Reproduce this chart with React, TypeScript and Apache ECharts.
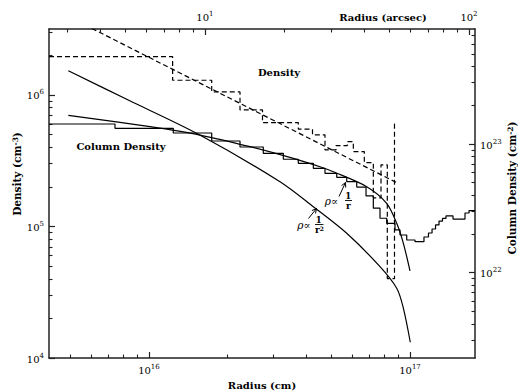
import { useEffect, useRef } from 'react';
import * as echarts from 'echarts';

// ---- axis ticks ----
const radiusMajorCm = [1e16, 1e17];
const radiusMinorCm = [5e15, 6e15, 7e15, 8e15, 9e15, 2e16, 3e16, 4e16, 5e16, 6e16, 7e16, 8e16, 9e16];
const arcsecMajor = [10, 100];
const arcsecMinor = [3, 4, 5, 6, 7, 8, 9, 20, 30, 40, 50, 60, 70, 80, 90];
const densityMajor = [1e4, 1e5, 1e6];
const densityMinor = [2e4, 3e4, 4e4, 5e4, 6e4, 7e4, 8e4, 9e4, 2e5, 3e5, 4e5, 5e5, 6e5, 7e5, 8e5, 9e5, 2e6, 3e6];
const columnMajor = [1e22, 1e23];
const columnMinor = [3e21, 4e21, 5e21, 6e21, 7e21, 8e21, 9e21, 2e22, 3e22, 4e22, 5e22, 6e22, 7e22, 8e22, 9e22, 2e23, 3e23, 4e23, 5e23, 6e23, 7e23];

// ---- axis ranges ----
const radiusRangeCm = [4.14e15, 1.774e17];
const arcsecRange = [2.566, 105.4];
const densityRange = [1e4, 3.171e6];
const columnRange = [2.173e21, 7.83e23];

// ---- density histogram (dashed, cm^-3) ----
const densityEdgesCm = [4.14e15, 1.232e16, 1.739e16, 2.232e16, 2.722e16, 3.733e16, 4.231e16, 4.724e16, 5.206e16, 5.752e16, 6.065e16, 6.682e16, 7.235e16, 7.743e16, 8.185e16, 8.72e16, 8.84e16];
const densityValues = [1.953e6, 1.293e6, 1.054e6, 7.69e5, 6.16e5, 5.49e5, 4.97e5, 3.82e5, 4.12e5, 4.42e5, 3.71e5, 3.06e5, 1.652e5, 2.94e5, 4.01e4, 6.02e5];

// ---- density power-law fit (dashed) ----
const densityFitRadiusCm = [4.14e15, 8.84e16];
const densityFitValues = [4.68e6, 2.166e5];

// ---- column density histogram (solid, cm^-2) ----
const columnEdgesCm = [4.14e15, 7.41e15, 1.239e16, 1.739e16, 2.232e16, 2.741e16, 3.271e16, 3.733e16, 4.262e16, 4.724e16, 5.239e16, 5.722e16, 6.25e16, 6.784e16, 7.235e16, 7.675e16, 8.141e16, 8.76e16, 9.156e16, 9.714e16, 1.0452e17, 1.131e17, 1.177e17, 1.2146e17, 1.2526e17, 1.2916e17, 1.3318e17, 1.3735e17, 1.4613e17, 1.6243e17, 1.683e17, 1.7742e17];
const columnValues = [1.43e23, 1.324e23, 1.218e23, 1.055e23, 9.48e22, 8.47e22, 7.61e22, 7.08e22, 6.47e22, 5.92e22, 5.51e22, 5.1e22, 4.63e22, 3.95e22, 3.17e22, 2.65e22, 2.42e22, 2.15e22, 1.963e22, 1.795e22, 1.741e22, 1.894e22, 2.034e22, 2.185e22, 2.35e22, 2.52e22, 2.64e22, 2.76e22, 2.61e22, 2.91e22, 3.04e22];

// ---- model column densities ----
const modelInvRRadiusCm = [4.91e15, 1.009e16, 1.568e16, 2.438e16, 3.572e16, 4.52e16, 5.083e16, 6.826e16, 8.14e16, 8.893e16, 9.43e16, 1.0e17];
const modelInvRValues = [1.671e23, 1.363e23, 1.174e23, 9.53e22, 7.74e22, 6.66e22, 6.09e22, 4.66e22, 3.46e22, 2.42e22, 1.692e22, 1.031e22];
const modelInvR2RadiusCm = [4.91e15, 8.33e15, 1.541e16, 3.177e16, 4.262e16, 5.722e16, 7.675e16, 8.893e16, 9.4e16, 1.0026e17];
const modelInvR2Values = [3.71e23, 2.197e23, 1.196e23, 5.095e22, 3.257e22, 2.024e22, 1.113e22, 7.57e21, 5.44e21, 2.88e21];

const FONT = '"DejaVu Serif", serif';
const INK = '#000';
const AXIS_COLOR = '#222';

function steps(edges: number[], values: number[]) {
  const pts: number[][] = [];
  values.forEach((v, i) => {
    pts.push([edges[i], v]);
    pts.push([edges[i + 1], v]);
  });
  return pts;
}
function zip(xs: number[], ys: number[]) {
  return xs.map((x, i) => [x, ys[i]]);
}
const powFmt = (v: number) => `{b|10}{e|${Math.round(Math.log10(v))}}`;
const powRich = {
  b: { fontSize: 10, fontFamily: FONT, color: INK, lineHeight: 12, verticalAlign: 'bottom' },
  e: { fontSize: 7, fontFamily: FONT, color: INK, lineHeight: 8, padding: [0, 0, 6, 0], verticalAlign: 'top' },
};

function majorAxis(extra: any) {
  return {
    type: 'log',
    axisLine: { show: true, onZero: false, lineStyle: { color: AXIS_COLOR, width: 1.5 } },
    splitLine: { show: false },
    minorTick: { show: false },
    ...extra,
  };
}
function minorAxis(extra: any) {
  return {
    type: 'log',
    axisLine: { show: false, onZero: false },
    axisLabel: { show: false },
    splitLine: { show: false },
    ...extra,
  };
}
const majorTick = (vals: number[]) => ({ show: true, inside: true, length: 6, customValues: vals, lineStyle: { color: AXIS_COLOR, width: 1.2 } });
const minorTickCfg = (vals: number[]) => ({ show: true, inside: true, length: 3.5, customValues: vals, lineStyle: { color: AXIS_COLOR, width: 1.1 } });
const majorLabel = (vals: number[], margin: number) => ({ show: true, formatter: powFmt, rich: powRich, margin, customValues: vals });

function arrow(x1: number, y1: number, x2: number, y2: number) {
  const dx = x2 - x1, dy = y2 - y1;
  const L = Math.hypot(dx, dy);
  const ux = dx / L, uy = dy / L;
  const h = 4.5, w = 2.3;
  const bx = x2 - ux * h, by = y2 - uy * h;
  return [
    { type: 'line', shape: { x1, y1, x2, y2 }, style: { stroke: INK, lineWidth: 1 } },
    {
      type: 'polyline',
      shape: { points: [[bx - uy * w, by + ux * w], [x2, y2], [bx + uy * w, by - ux * w]] },
      style: { stroke: INK, fill: null, lineWidth: 1 },
    },
  ];
}

function txt(x: number, y: number, text: string, opts: any = {}) {
  return {
    type: 'text',
    x,
    y,
    rotation: opts.rotation || 0,
    style: {
      text,
      fontFamily: FONT,
      fontSize: opts.fontSize || 10,
      fontWeight: opts.fontWeight || 'normal',
      fontStyle: opts.fontStyle || 'normal',
      fill: INK,
      align: opts.align || 'center',
      verticalAlign: 'middle',
      rich: opts.rich,
    },
  };
}

export default function App() {
  const ref = useRef<HTMLDivElement>(null);
  useEffect(() => {
    if (!ref.current) return;
    const chart = echarts.init(ref.current, undefined, { renderer: 'svg' });
    const supRich = {
      s: { fontSize: 7.5, fontFamily: FONT, fontWeight: 'bold', lineHeight: 8, padding: [0, 0, 6, 0], verticalAlign: 'top' },
    };
    const option: any = {
      animation: false,
      backgroundColor: '#fff',
      grid: { left: 49, right: 43, top: 29, bottom: 34, containLabel: false, outerBoundsMode: 'none' },
      xAxis: [
        majorAxis({
          position: 'bottom', min: radiusRangeCm[0], max: radiusRangeCm[1],
          axisTick: majorTick(radiusMajorCm),
          axisLabel: majorLabel(radiusMajorCm, 5),
          name: 'Radius (cm)', nameLocation: 'middle', nameGap: 17,
          nameTextStyle: { fontFamily: FONT, fontSize: 10, fontWeight: 'bold', color: INK },
        }),
        minorAxis({ position: 'bottom', min: radiusRangeCm[0], max: radiusRangeCm[1], axisTick: minorTickCfg(radiusMinorCm) }),
        majorAxis({
          position: 'top', min: arcsecRange[0], max: arcsecRange[1],
          axisTick: majorTick(arcsecMajor),
          axisLabel: majorLabel(arcsecMajor, 7),
        }),
        minorAxis({ position: 'top', min: arcsecRange[0], max: arcsecRange[1], axisTick: minorTickCfg(arcsecMinor) }),
      ],
      yAxis: [
        majorAxis({
          position: 'left', min: densityRange[0], max: densityRange[1],
          axisTick: majorTick(densityMajor),
          axisLabel: majorLabel(densityMajor, 5),
        }),
        minorAxis({ position: 'left', min: densityRange[0], max: densityRange[1], axisTick: minorTickCfg(densityMinor) }),
        majorAxis({
          position: 'right', min: columnRange[0], max: columnRange[1],
          axisTick: majorTick(columnMajor),
          axisLabel: majorLabel(columnMajor, 5),
        }),
        minorAxis({ position: 'right', min: columnRange[0], max: columnRange[1], axisTick: minorTickCfg(columnMinor) }),
      ],
      series: [
        {
          name: 'Density', type: 'line', xAxisIndex: 0, yAxisIndex: 0, symbol: 'none', clip: true,
          data: steps(densityEdgesCm, densityValues),
          lineStyle: { color: INK, width: 1.2, type: [5, 3] },
        },
        {
          name: 'Density fit', type: 'line', xAxisIndex: 0, yAxisIndex: 0, symbol: 'none', clip: true,
          data: zip(densityFitRadiusCm, densityFitValues),
          lineStyle: { color: INK, width: 1.2, type: [5, 3] },
        },
        {
          name: 'Column Density', type: 'line', xAxisIndex: 0, yAxisIndex: 2, symbol: 'none', clip: true,
          data: steps(columnEdgesCm, columnValues),
          lineStyle: { color: INK, width: 1.2 },
        },
        {
          name: 'rho ~ 1/r', type: 'line', xAxisIndex: 0, yAxisIndex: 2, symbol: 'none', clip: true, smooth: 0.3,
          data: zip(modelInvRRadiusCm, modelInvRValues),
          lineStyle: { color: INK, width: 1.2 },
        },
        {
          name: 'rho ~ 1/r^2', type: 'line', xAxisIndex: 0, yAxisIndex: 2, symbol: 'none', clip: true, smooth: 0.3,
          data: zip(modelInvR2RadiusCm, modelInvR2Values),
          lineStyle: { color: INK, width: 1.2 },
        },
      ],
      graphic: [
        txt(279, 72, 'Density', { fontWeight: 'bold' }),
        txt(121, 146, 'Column Density', { fontWeight: 'bold' }),
        txt(383, 17, 'Radius (arcsec)', { fontWeight: 'bold' }),
        txt(17, 174, 'Density (cm{s|-3})', { fontWeight: 'bold', fontSize: 10.5, rotation: Math.PI / 2, rich: supRich }),
        txt(512, 188, 'Column Density (cm{s|-2})', { fontWeight: 'bold', fontSize: 10.5, rotation: Math.PI / 2, rich: supRich }),
        // rho ~ 1/r annotation
        txt(331.5, 201, 'ρ∝', { fontSize: 10.5, fontStyle: 'italic' }),
        txt(348.3, 195.5, '1', { fontSize: 8.5, fontWeight: 'bold' }),
        { type: 'line', shape: { x1: 345, y1: 200.5, x2: 352, y2: 200.5 }, style: { stroke: INK, lineWidth: 0.9 } },
        txt(348.3, 205.5, 'r', { fontSize: 9, fontWeight: 'bold' }),
        ...arrow(339, 196.5, 345.5, 182.5),
        // rho ~ 1/r^2 annotation
        txt(304, 225, 'ρ∝', { fontSize: 10.5, fontStyle: 'italic' }),
        txt(318.8, 219.5, '1', { fontSize: 8.5, fontWeight: 'bold' }),
        { type: 'line', shape: { x1: 315, y1: 224.5, x2: 323.5, y2: 224.5 }, style: { stroke: INK, lineWidth: 0.9 } },
        txt(319.5, 230, 'r{t|2}', { fontSize: 9, fontWeight: 'bold', rich: { t: { fontSize: 6, fontFamily: FONT, fontWeight: 'bold', padding: [0, 0, 4, 0], verticalAlign: 'top', lineHeight: 6 } } }),
        ...arrow(308.5, 218.5, 316.5, 208.5),
      ],
    };
    chart.setOption(option);
    return () => chart.dispose();
  }, []);
  return <div ref={ref} style={{ position: 'absolute', left: 0, top: 0, width: 518, height: 392, background: '#fff' }} />;
}
